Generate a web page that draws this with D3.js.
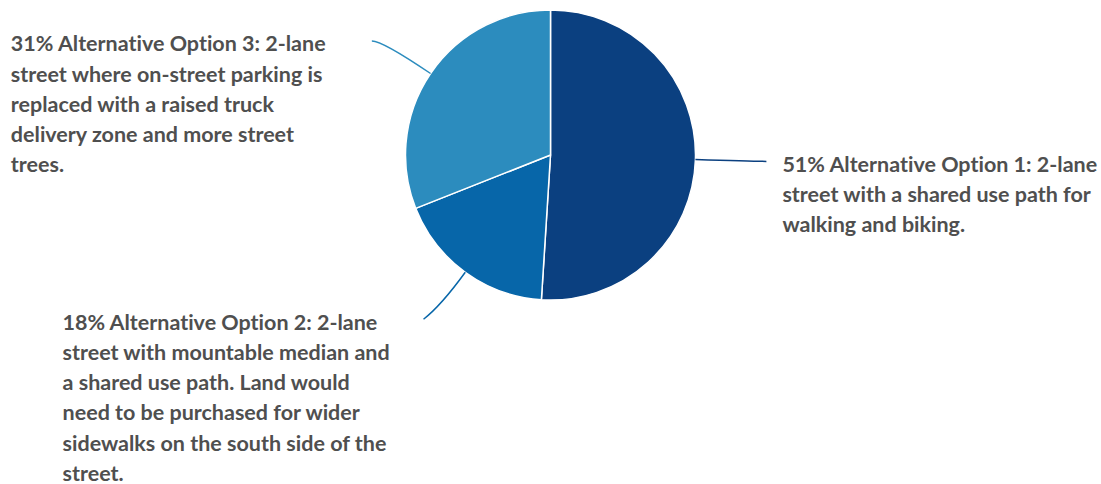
<!DOCTYPE html>
<html>
<head>
<meta charset="utf-8">
<script src="https://cdn.jsdelivr.net/npm/d3@7"></script>
<style>
  html, body { margin: 0; padding: 0; background: #ffffff; }
  svg { display: block; }
  text { font-variant-ligatures: none; }
</style>
</head>
<body>
<svg id="chart" width="1101" height="484"></svg>
<script>
// ---- data ----
const categories = [
  "Alternative Option 1: 2-lane street with a shared use path for walking and biking.",
  "Alternative Option 2: 2-lane street with mountable median and a shared use path. Land would need to be purchased for wider sidewalks on the south side of the street.",
  "Alternative Option 3: 2-lane street where on-street parking is replaced with a raised truck delivery zone and more street trees."
];
const values = [51, 18, 31];
const labelLines = [
  ["51% Alternative Option 1: 2-lane", "street with a shared use path for", "walking and biking."],
  ["18% Alternative Option 2: 2-lane", "street with mountable median and", "a shared use path. Land would", "need to be purchased for wider", "sidewalks on the south side of the", "street."],
  ["31% Alternative Option 3: 2-lane", "street where on-street parking is", "replaced with a raised truck", "delivery zone and more street", "trees."]
];
const colors = ["#0b4080", "#0766a9", "#2c8cbe"];

// ---- layout ----
const width = 1101, height = 484;
const cx = 550.5, cy = 155, r = 145;
const Rx = r + 71, Ry = r + 58;
const labelBox = 345, gap = 16, lineH = 30.2;

const svg = d3.select("#chart");
const g = svg.append("g").attr("transform", `translate(${cx},${cy})`);

const pie = d3.pie().sort(null).value(d => d)(values);
const arc = d3.arc().innerRadius(0).outerRadius(r);

g.selectAll("path.slice")
  .data(pie)
  .join("path")
  .attr("class", "slice")
  .attr("d", arc)
  .attr("fill", (d, i) => colors[i])
  .attr("stroke", "#ffffff")
  .attr("stroke-width", 1.5)
  .attr("stroke-linejoin", "round");

pie.forEach((d, i) => {
  const a = (d.startAngle + d.endAngle) / 2;
  const sx = Math.sin(a), sy = -Math.cos(a);
  const ex = r * sx, ey = r * sy;
  const ax = Rx * sx, ay = Ry * sy;
  let t = Math.abs(sy) > 1e-3 ? (ay - ey) / sy : 40;
  const maxT = Math.abs(ax - ex);
  t = Math.max(0, Math.min(t, maxT));
  const qx = ex + sx * t, qy = ey + sy * t;
  const path = d3.path();
  path.moveTo(ex, ey);
  path.quadraticCurveTo(qx, qy, ax, ay);
  g.append("path")
    .attr("d", path.toString())
    .attr("fill", "none")
    .attr("stroke", colors[i])
    .attr("stroke-width", 1.5);

  const right = sx >= 0;
  const tx = right ? ax + gap : ax - gap - labelBox;
  const text = g.append("text")
    .attr("x", tx)
    .attr("y", ay + 10.5)
    .attr("font-family", "Lato, 'Noto Sans', sans-serif")
    .attr("font-weight", 700)
    .attr("font-size", 21.5)
    .attr("fill", "#4f4f4f");
  labelLines[i].forEach((ln, k) => {
    text.append("tspan")
      .attr("x", tx)
      .attr("dy", k === 0 ? 0 : lineH)
      .text(ln);
  });
});
</script>
</body>
</html>
